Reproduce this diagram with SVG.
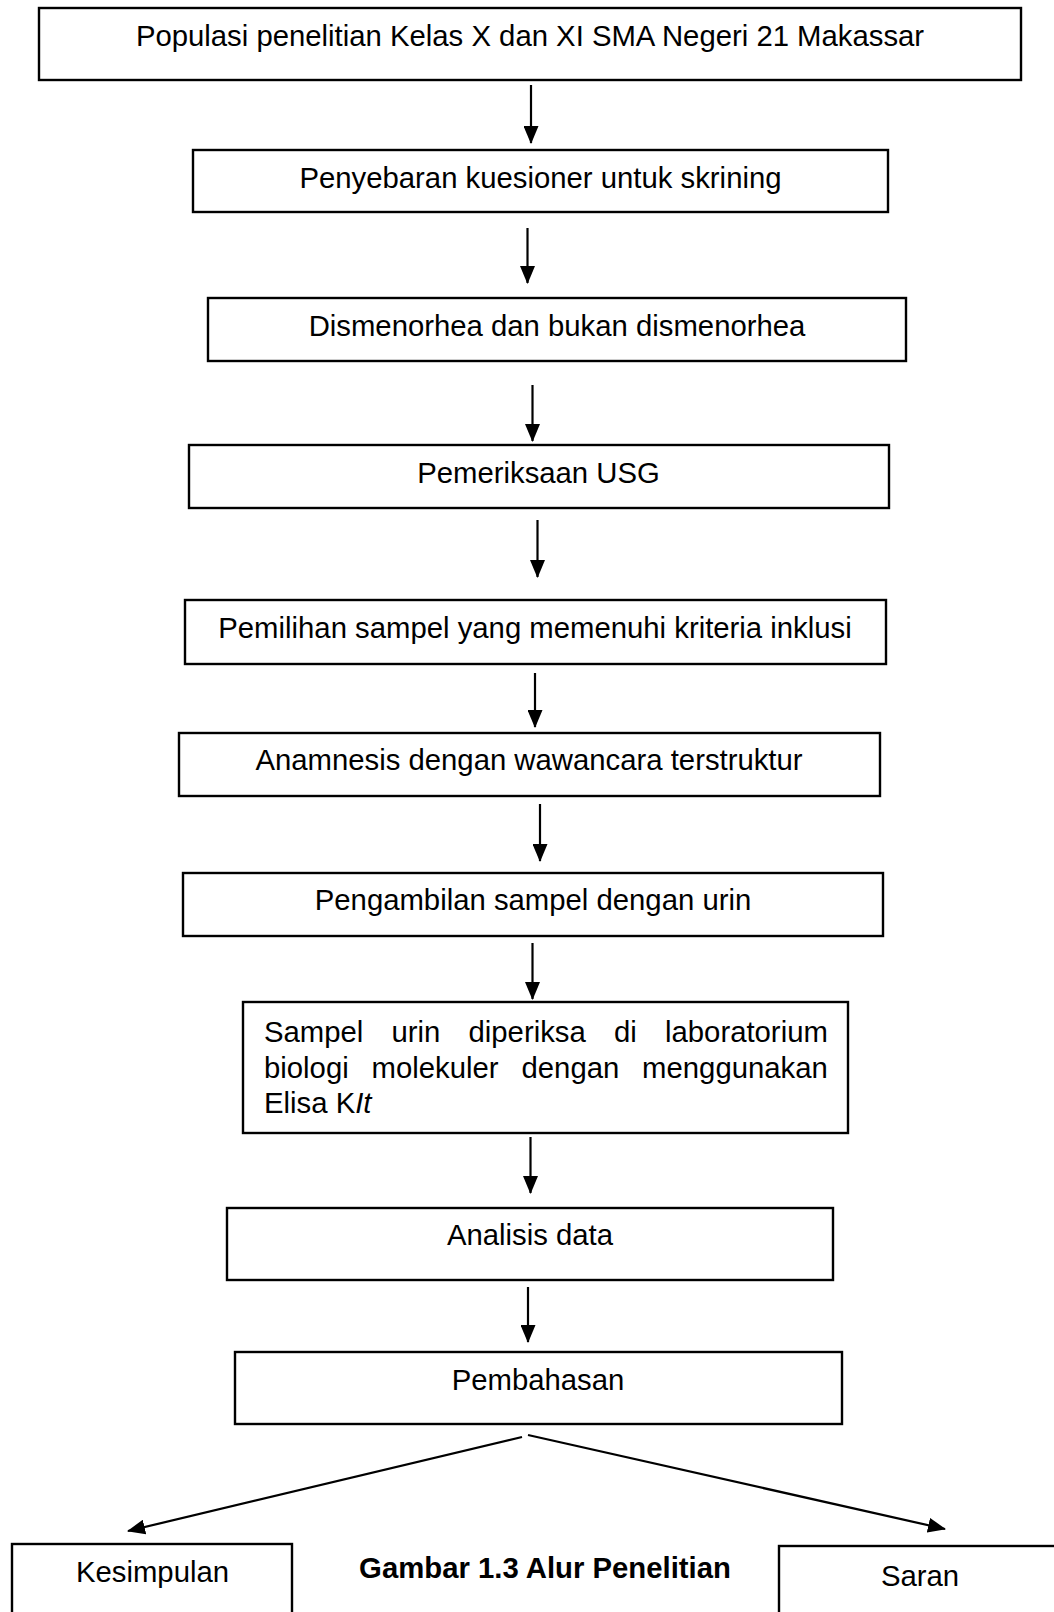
<svg xmlns="http://www.w3.org/2000/svg" width="1054" height="1612" viewBox="0 0 1054 1612">
<defs>
<style>
.box{fill:#fff;stroke:#000;stroke-width:2.4}
.t{font-family:"Liberation Sans",Arial,sans-serif;font-size:29.3px;fill:#000}
.c{text-anchor:middle}
.b{font-weight:bold}
.ln{stroke:#000;stroke-width:2.2;fill:none;marker-end:url(#ah)}
</style>
<marker id="ah" markerUnits="userSpaceOnUse" markerWidth="18" markerHeight="15" refX="17" refY="7.5" orient="auto">
<path d="M0,0 L18,7.5 L0,15 z" fill="#000"/>
</marker>
</defs>
<rect width="1054" height="1612" fill="#fff"/>

<g id="n1"><rect class="box" x="39" y="8" width="982" height="72"/><text class="t c" x="530" y="46">Populasi penelitian Kelas X dan XI SMA Negeri 21 Makassar</text></g>
<g id="n2"><rect class="box" x="193" y="150" width="695" height="62"/><text class="t c" x="540.5" y="188">Penyebaran kuesioner untuk skrining</text></g>
<g id="n3"><rect class="box" x="208" y="298" width="698" height="63"/><text class="t c" x="557" y="336">Dismenorhea dan bukan dismenorhea</text></g>
<g id="n4"><rect class="box" x="189" y="445" width="700" height="63"/><text class="t c" x="538.5" y="483">Pemeriksaan USG</text></g>
<g id="n5"><rect class="box" x="185" y="600" width="701" height="64"/><text class="t c" x="535" y="638">Pemilihan sampel yang memenuhi kriteria inklusi</text></g>
<g id="n6"><rect class="box" x="179" y="733" width="701" height="63"/><text class="t c" x="529" y="770">Anamnesis dengan wawancara terstruktur</text></g>
<g id="n7"><rect class="box" x="183" y="873" width="700" height="63"/><text class="t c" x="533" y="910">Pengambilan sampel dengan urin</text></g>
<g id="n8"><rect class="box" x="243" y="1002" width="605" height="131"/>
<text class="t" y="1042"><tspan x="264">Sampel</tspan><tspan x="391.5">urin</tspan><tspan x="468.5">diperiksa</tspan><tspan x="614">di</tspan><tspan x="665">laboratorium</tspan></text>
<text class="t" y="1078"><tspan x="264">biologi</tspan><tspan x="371.6">molekuler</tspan><tspan x="521.5">dengan</tspan><tspan x="642.1">menggunakan</tspan></text>
<text class="t" x="264" y="1113">Elisa K<tspan font-style="italic">It</tspan></text>
</g>
<g id="n9"><rect class="box" x="227" y="1208" width="606" height="72"/><text class="t c" x="530" y="1245">Analisis data</text></g>
<g id="n10"><rect class="box" x="235" y="1352" width="607" height="72"/><text class="t c" x="538" y="1390">Pembahasan</text></g>
<g id="n11"><rect class="box" x="12" y="1544" width="280" height="80"/><text class="t c" x="152.5" y="1582">Kesimpulan</text></g>
<g id="n12"><rect class="box" x="779" y="1546" width="290" height="80"/><text class="t c" x="920" y="1586">Saran</text></g>
<g id="caption"><text class="t c b" x="545" y="1578">Gambar 1.3 Alur Penelitian</text></g>

<g id="connectors">
<line class="ln" x1="531" y1="85" x2="531" y2="143"/>
<line class="ln" x1="527.5" y1="228" x2="527.5" y2="283"/>
<line class="ln" x1="532.5" y1="385" x2="532.5" y2="441"/>
<line class="ln" x1="537.5" y1="520" x2="537.5" y2="577"/>
<line class="ln" x1="535" y1="673" x2="535" y2="727"/>
<line class="ln" x1="540" y1="804" x2="540" y2="861"/>
<line class="ln" x1="532.5" y1="943" x2="532.5" y2="999"/>
<line class="ln" x1="530.5" y1="1137" x2="530.5" y2="1193"/>
<line class="ln" x1="528" y1="1287" x2="528" y2="1342"/>
<line class="ln" x1="522" y1="1437" x2="128" y2="1531"/>
<line class="ln" x1="528" y1="1435" x2="945" y2="1529"/>
</g>
</svg>
